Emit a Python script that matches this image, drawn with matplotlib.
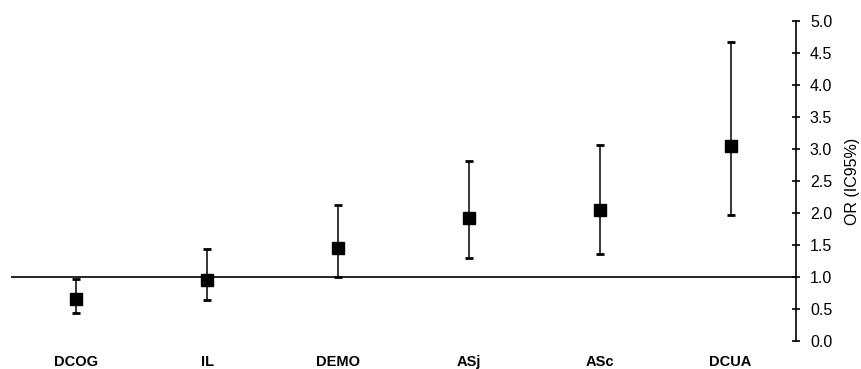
import matplotlib
matplotlib.use("Agg")
import matplotlib.pyplot as plt

categories = ["DCOG", "IL", "DEMO", "ASj", "ASc", "DCUA"]
or_values = [0.65, 0.96, 1.46, 1.92, 2.04, 3.05]
ci_lower = [0.44, 0.64, 1.00, 1.30, 1.36, 1.97]
ci_upper = [0.97, 1.44, 2.13, 2.81, 3.06, 4.67]
y_ticks = [0.0, 0.5, 1.0, 1.5, 2.0, 2.5, 3.0, 3.5, 4.0, 4.5, 5.0]
y_label = "OR (IC95%)"

plt.rcParams['font.family'] = ['Liberation Sans', 'DejaVu Sans']

fig = plt.figure(figsize=(8.61, 3.69), dpi=100)
ax = fig.add_axes([11/861, 28/369, (796-11)/861, (341-21)/369])

x = list(range(len(categories)))
yerr = [[v - lo for v, lo in zip(or_values, ci_lower)],
        [hi - v for v, hi in zip(or_values, ci_upper)]]

ax.axhline(1.0, color='black', lw=1.2, zorder=1)
ax.errorbar(x, or_values, yerr=yerr, fmt='s', color='black', ecolor='black',
            markersize=8, elinewidth=1.1, capsize=3, capthick=2, zorder=3)

ax.set_xlim(-0.5, 5.5)
ax.set_ylim(0, 5)
ax.set_xticks(x)
ax.set_xticklabels(categories, fontweight='bold', fontsize=10.5)
ax.tick_params(axis='x', length=0, pad=10)

ax.yaxis.tick_right()
ax.yaxis.set_label_position('right')
ax.set_yticks(y_ticks)
ax.set_yticklabels([f"{t:.1f}" for t in y_ticks], fontsize=11.5)
ax.tick_params(axis='y', direction='inout', length=6, width=1.2, pad=7)
ax.set_ylabel(y_label, fontsize=11.5, labelpad=9)

for s in ['left', 'top', 'bottom']:
    ax.spines[s].set_visible(False)
ax.spines['right'].set_linewidth(1.2)

fig.savefig("out.png", dpi=100)
